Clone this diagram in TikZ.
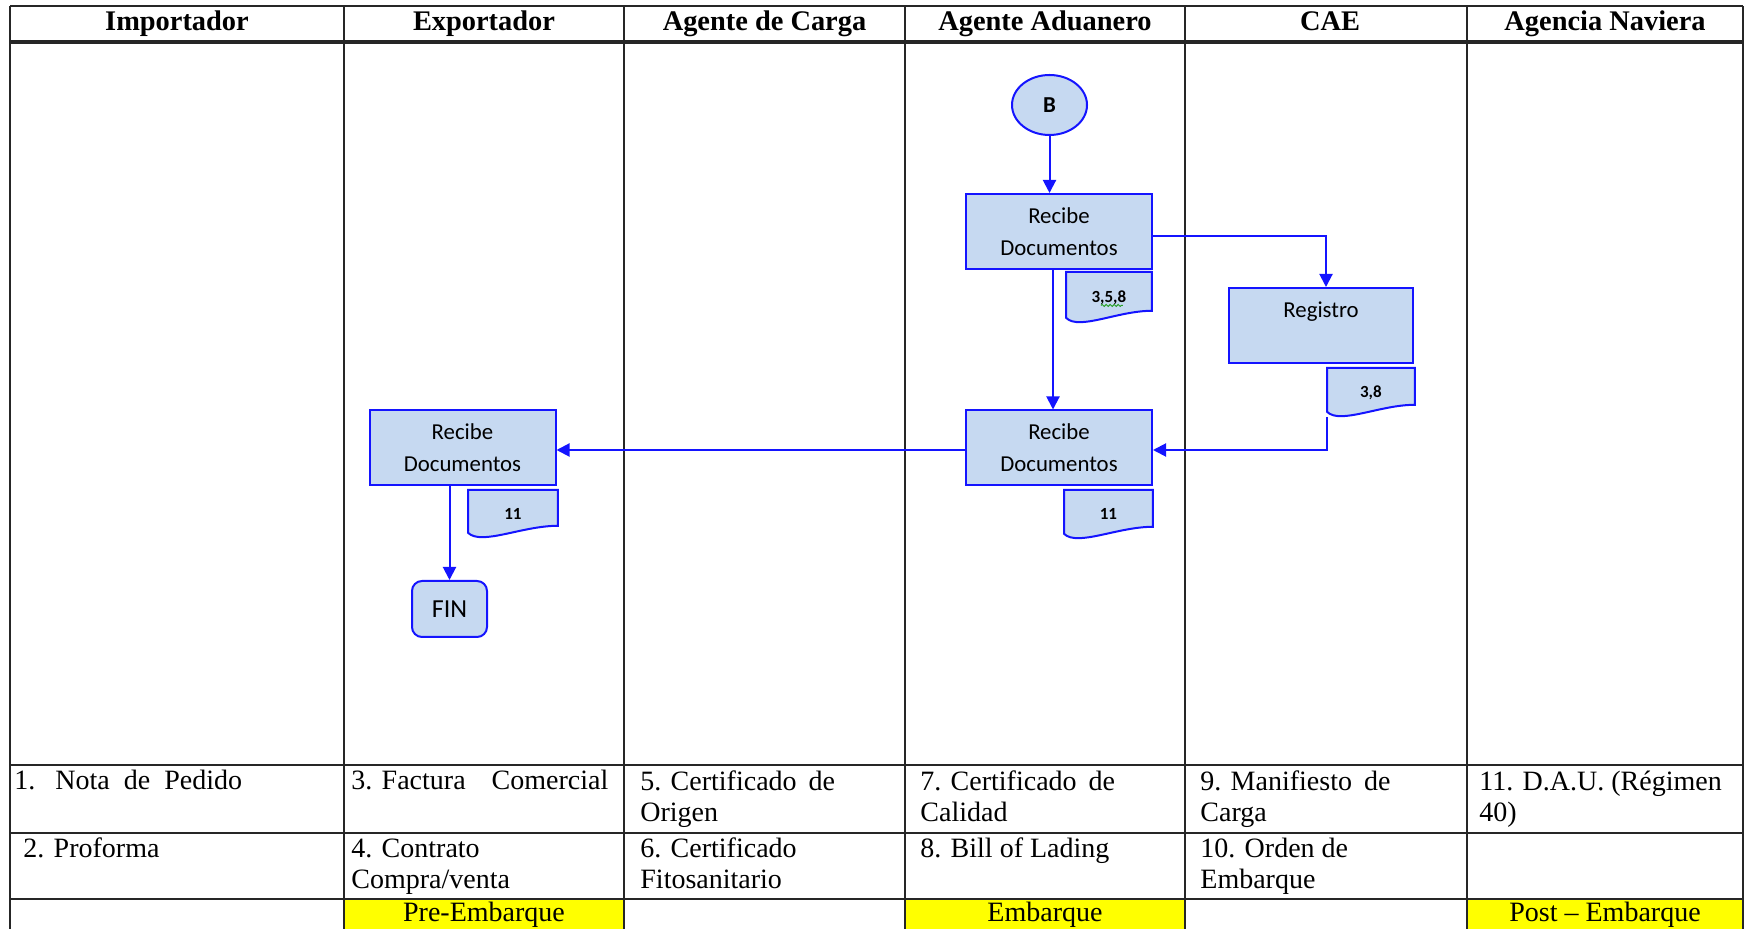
\documentclass[tikz,border=0pt]{standalone}
\usepackage{fontspec}
\setmainfont{Liberation Serif}
\newfontfamily\flowfont{Carlito}
\usetikzlibrary{arrows.meta,calc,shapes.geometric,backgrounds,decorations.pathmorphing}
\definecolor{boxfill}{RGB}{198,217,241}
\definecolor{boxline}{RGB}{20,20,255}
\definecolor{phase}{RGB}{255,255,0}
\definecolor{spell}{RGB}{40,160,40}

\begin{document}
\begin{tikzpicture}[x=0.5pt,y=-0.5pt,
  tableline/.style={line width=1.1pt, black!85},
  headtext/.style={anchor=base, inner sep=0, font=\fontsize{14.2}{16}\selectfont\bfseries},
  % multi-line cells sit on the baseline of their last line
  celltext/.style={anchor=base west, align=left, inner sep=0, font=\fontsize{14}{15.5}\selectfont},
  phasetext/.style={anchor=base, inner sep=0, font=\fontsize{14}{16}\selectfont},
  process/.style={draw=boxline, fill=boxfill, line width=1pt, minimum width=93pt,
    minimum height=37.5pt, inner sep=0, align=center, font=\flowfont\fontsize{11.4}{16}\selectfont},
  joinpoint/.style={ellipse, draw=boxline, fill=boxfill, line width=1pt, minimum width=37.5pt,
    minimum height=30pt, inner sep=0, font=\flowfont\bfseries\fontsize{11.4}{13}\selectfont},
  terminal/.style={rounded corners=5pt, draw=boxline, fill=boxfill, line width=1pt,
    minimum width=37.5pt, minimum height=28pt, inner sep=0, font=\flowfont\fontsize{13}{15}\selectfont},
  docnode/.style={anchor=north west, inner sep=0, font=\flowfont\bfseries\fontsize{8.5}{10}\selectfont},
  docshape/.style={draw=boxline, fill=boxfill, line width=1pt},
  flow/.style={draw=boxline, line width=1pt, -{Triangle[length=6.5pt,width=6.5pt]}},
]
\useasboundingbox (0,0) rectangle (1745,929);

% phase cells
\fill[phase] (344,899) rectangle (624,929);
\fill[phase] (905,899) rectangle (1185,929);
\fill[phase] (1467,899) rectangle (1743,929);

% table rules
\draw[tableline] (10,6) -- (1743,6);
\draw[tableline, line width=1.6pt] (10,42) -- (1743,42);
\draw[tableline] (10,765) -- (1743,765);
\draw[tableline] (10,833) -- (1743,833);
\draw[tableline] (10,899) -- (1743,899);
\foreach \cx in {10,344,624,905,1185,1467,1743}
  \draw[tableline] (\cx,6) -- (\cx,929);

% lane headings
\node[headtext] (h1) at (177,31) {Importador};
\node[headtext] (h2) at (484,31) {Exportador};
\node[headtext] (h3) at (764.5,31) {Agente de Carga};
\node[headtext] (h4) at (1045,31) {Agente Aduanero};
\node[headtext] (h5) at (1330,31) {CAE};
\node[headtext] (h6) at (1605,31) {Agencia Naviera};

% document list
\node[celltext] (t1) at (14,790) {1.\hspace{10pt}Nota\hspace{7pt}de\hspace{7pt}Pedido};
\node[celltext] (t3) at (351,790) {3. Factura\hspace{13pt}Comercial};
\node[celltext] (t5) at (640,821) {5. Certificado\hspace{6pt}de\\Origen};
\node[celltext] (t7) at (920,821) {7. Certificado\hspace{6pt}de\\Calidad};
\node[celltext] (t9) at (1200,821) {9. Manifiesto\hspace{6pt}de\\Carga};
\node[celltext] (t11) at (1479,821) {11. D.A.U. (Régimen\\40)};
\node[celltext] (t2) at (23,857) {2. Proforma};
\node[celltext] (t4) at (351,888) {4. Contrato\\Compra/venta};
\node[celltext] (t6) at (640,888) {6. Certificado\\Fitosanitario};
\node[celltext] (t8) at (920,857) {8. Bill of Lading};
\node[celltext] (t10) at (1200,888) {10. Orden de\\Embarque};

% phases
\node[phasetext] (p1) at (484,921) {Pre-Embarque};
\node[phasetext] (p2) at (1045,921) {Embarque};
\node[phasetext] (p3) at (1605,921) {Post – Embarque};

% flow steps
\node[joinpoint] (B) at (1049.5,105) {B};
\node[process] (rd1) at (1059,231.5) {Recibe\\Documentos};
\node[process, minimum width=92pt] (reg) at (1321,325.5) {Registro\\\mbox{}};
\node[process] (rd2) at (1059,448) {Recibe\\Documentos};
\node[process] (rd3) at (462.5,448) {Recibe\\Documentos};
\node[terminal] (fin) at (449.5,609) {FIN};

% attached documents
\node[docnode, minimum width=42.5pt, minimum height=25pt] (d358) at (1066,272) {3,5,8\hspace{3pt}};
\node[docnode, minimum width=43.5pt, minimum height=24pt] (d38) at (1327,368) {3,8};
\node[docnode, minimum width=44pt, minimum height=24pt] (d11b) at (1064,490) {11};
\node[docnode, minimum width=44.5pt, minimum height=23.5pt] (d11a) at (468,490) {11};

\begin{scope}[on background layer]
\foreach \d in {d358,d38,d11b,d11a}{
  \path[docshape] (\d.north west) -- (\d.north east) -- ($(\d.south east)+(0,-12)$)
    .. controls ($(\d.south east)!0.4!(\d.south west)+(0,-12)$)
    and ($(\d.south west)!0.15!(\d.south east)+(0,8)$) .. ($(\d.south west)+(0,-5)$) -- cycle;
}
\end{scope}
\draw[spell, line width=0.5pt, decorate, decoration={snake, amplitude=0.5pt, segment length=2pt}]
  ($(d358.center)+(-8,8)$) -- ($(d358.center)+(14,8)$);

% connectors
\draw[flow] (B.south) -- (B.south |- rd1.north);
\draw[flow] ($(rd1.east)+(0,5)$) -| ($(reg.north)+(5,0)$);
\draw[flow] ($(rd1.south)+(-6,0)$) -- ($(rd2.north)+(-6,0)$);
\draw[flow] (d38.south west) |- ($(rd2.east)+(0,2)$);
\draw[flow] ($(rd2.west)+(0,2)$) -- ($(rd3.east)+(0,2)$);
\draw[flow] (fin.north |- rd3.south) -- (fin.north);
\end{tikzpicture}
\end{document}
